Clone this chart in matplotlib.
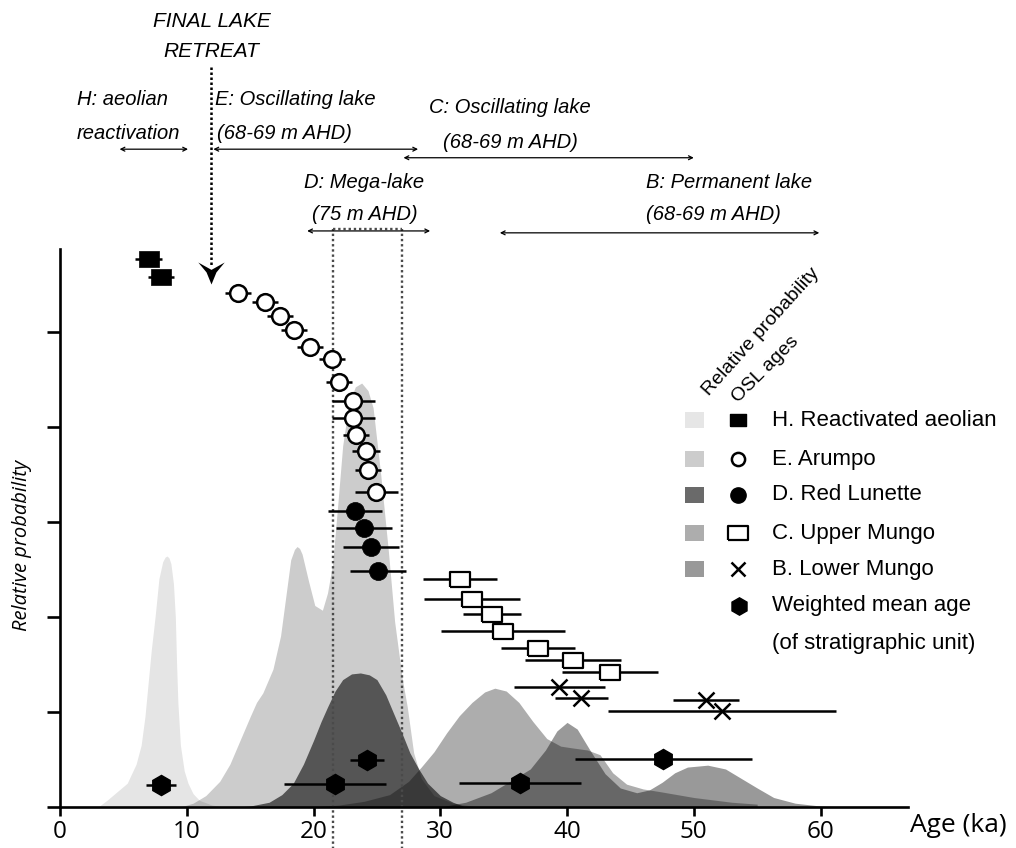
import numpy as np
import matplotlib.pyplot as plt

plt.rcParams['font.family'] = ['Liberation Sans', 'DejaVu Sans']

# relative probability curves (age in ka, height in y-tick units)
h_age = [3.0, 3.7, 5.3, 6.0, 6.4, 6.7, 6.95, 7.2, 7.5, 7.8, 8.1, 8.3, 8.45, 8.6, 8.75, 8.95, 9.1, 9.2, 9.3, 9.5, 9.8, 10.1, 10.5, 11.0, 12.0, 13.0]
h_prob = [0, 0.07, 0.25, 0.45, 0.65, 0.95, 1.3, 1.65, 2.0, 2.4, 2.58, 2.63, 2.64, 2.62, 2.56, 2.35, 2.0, 1.5, 1.1, 0.65, 0.38, 0.25, 0.14, 0.07, 0.02, 0]

e_age = [9.5, 10.5, 11.5, 12.6, 13.4, 14.2, 15.0, 15.5, 16.0, 16.8, 17.4, 17.8, 18.2, 18.5, 18.7, 18.9, 19.1, 19.6, 20.1, 20.7, 21.1, 21.5, 21.9, 22.3, 22.8, 23.3, 23.8, 24.3, 24.7, 25.3, 25.9, 26.4, 27.0, 27.4, 27.9, 28.5, 29.5, 31.0, 33.0]
e_prob = [0, 0.04, 0.12, 0.27, 0.45, 0.7, 0.95, 1.1, 1.2, 1.45, 1.8, 2.2, 2.6, 2.71, 2.74, 2.72, 2.66, 2.38, 2.12, 2.07, 2.25, 2.55, 3.16, 3.8, 4.25, 4.42, 4.46, 4.38, 4.2, 3.5, 2.7, 1.95, 1.35, 1.05, 0.57, 0.3, 0.12, 0.04, 0]

d_age = [14, 15, 16.5, 17.5, 18.4, 19.2, 20.0, 20.6, 21.1, 21.7, 22.3, 23.0, 23.7, 24.4, 25.0, 25.7, 26.3, 27.0, 27.6, 28.3, 29.0, 30, 31, 32]
d_prob = [0, 0.01, 0.05, 0.13, 0.25, 0.45, 0.7, 0.9, 1.05, 1.22, 1.34, 1.4, 1.41, 1.39, 1.34, 1.18, 0.99, 0.77, 0.57, 0.4, 0.25, 0.12, 0.05, 0]

c_age = [20, 22, 24, 26, 27.5, 28.5, 29.5, 30.5, 31.5, 32.5, 33.5, 34.3, 35.2, 36.2, 37.3, 38.4, 39.5, 40.5, 41.6, 42.6, 43.6, 44.7, 46, 47.4, 50, 53, 55, 55]
c_prob = [0, 0.02, 0.06, 0.13, 0.27, 0.42, 0.58, 0.78, 0.96, 1.1, 1.21, 1.25, 1.22, 1.1, 0.9, 0.72, 0.64, 0.62, 0.6, 0.55, 0.36, 0.24, 0.19, 0.16, 0.1, 0.05, 0.03, 0]

b_age = [30, 32, 34, 35.5, 37.1, 38.3, 39.2, 40.0, 40.8, 41.8, 43, 44.2, 45.5, 46.5, 47.5, 48.5, 49.5, 51.1, 52.5, 54, 55, 56.3, 58, 60, 62.4]
b_prob = [0, 0.05, 0.15, 0.27, 0.4, 0.6, 0.8, 0.89, 0.82, 0.6, 0.35, 0.2, 0.15, 0.18, 0.26, 0.36, 0.42, 0.44, 0.4, 0.28, 0.2, 0.1, 0.04, 0.01, 0]

# OSL ages (ka), 1-sigma errors and their stacking position
h_osl = [7.0, 7.97]
h_err = [1.05, 1.05]
h_pos = [5.77, 5.58]

e_osl = [14.05, 16.18, 17.36, 18.47, 19.73, 21.47, 22.02, 23.13, 23.13, 23.36, 24.15, 24.31, 24.94]
e_err = [1.05, 1.05, 1.0, 1.0, 1.0, 1.0, 1.0, 1.7, 1.7, 1.05, 1.08, 1.05, 1.7]
e_pos = [5.41, 5.31, 5.16, 5.02, 4.84, 4.71, 4.47, 4.27, 4.09, 3.91, 3.74, 3.54, 3.31]

d_osl = [23.28, 23.99, 24.55, 25.1]
d_err = [2.15, 2.2, 2.2, 2.2]
d_pos = [3.11, 2.93, 2.73, 2.48]

c_osl = [31.57, 32.52, 34.1, 34.96, 37.73, 40.49, 43.41]
c_err = [2.9, 3.8, 2.3, 4.9, 2.9, 3.8, 3.8]
c_pos = [2.4, 2.19, 2.03, 1.85, 1.67, 1.55, 1.42]

b_osl = [39.38, 41.12, 50.99, 52.25]
b_err = [3.6, 2.1, 2.6, 9.0]
b_pos = [1.26, 1.15, 1.13, 1.01]

wm_age = [7.97, 21.7, 24.23, 36.3, 47.6]
wm_err = [1.2, 4.05, 1.35, 4.8, 7.0]
wm_pos = [0.23, 0.24, 0.49, 0.25, 0.51]

mega_lake = [21.55, 27.0]
final_retreat = 11.92

# phase brackets: label lines, text x, text y, arrow start, arrow end, arrow height
phases = [
    (["H: aeolian", "reactivation"], [1.34, 1.34], [7.44, 7.09], 4.7, 10.1, 6.92),
    (["E: Oscillating lake", "(68-69 m AHD)"], [12.23, 12.4], [7.44, 7.09], 12.1, 28.25, 6.92),
    (["C: Oscillating lake", "(68-69 m AHD)"], [29.1, 30.2], [7.36, 6.99], 27.1, 50.0, 6.83),
    (["D: Mega-lake", "(75 m AHD)"], [19.26, 19.9], [6.57, 6.23], 19.5, 29.2, 6.06),
    (["B: Permanent lake", "(68-69 m AHD)"], [46.25, 46.25], [6.57, 6.23], 34.7, 59.9, 6.04),
]

legend_labels = ["H. Reactivated aeolian", "E. Arumpo", "D. Red Lunette",
                 "C. Upper Mungo", "B. Lower Mungo", "Weighted mean age"]
swatch_grey = ['#e6e6e6', '#cccccc', '#6a6a6a', '#adadad', '#999999']

rect = [(-1, -0.75), (1, -0.75), (1, 0.75), (-1, 0.75), (-1, -0.75)]
rect_h = [(-1, -0.8), (1, -0.8), (1, 0.8), (-1, 0.8), (-1, -0.8)]
arrowhead = [(0, -1), (-0.45, 0.1), (-1.2, 1), (0, 0.33), (1.2, 1), (0.45, 0.1), (0, -1)]

fig = plt.figure(figsize=(10.16, 8.48), dpi=100)
ax = fig.add_axes([60 / 1016, 41 / 848, 848 / 1016, 558 / 848])
ax.set_xlim(0, 66.9)
ax.set_ylim(0, 5.87)

for age, prob, a in [(h_age, h_prob, 0.1), (e_age, e_prob, 0.2), (c_age, c_prob, 0.32),
                     (b_age, b_prob, 0.4), (d_age, d_prob, 0.583)]:
    ax.fill_between(age, prob, color='black', alpha=a, lw=0, zorder=1)

# mega-lake box
for x in mega_lake:
    ax.plot([x, x], [-0.45, 6.08], ls=(0, (1, 1.2)), color='#4a4a4a', lw=1.7, clip_on=False, zorder=2)
ax.plot(mega_lake, [6.08, 6.08], ls=(0, (1, 1.2)), color='#4a4a4a', lw=1.7, clip_on=False, zorder=2)

# final lake retreat arrow
ax.plot([final_retreat, final_retreat], [7.78, 5.7], ls=(0, (1, 1)), color='black', lw=1.8, clip_on=False, zorder=3)
ax.plot([final_retreat], [5.62], marker=arrowhead, ms=19, color='black', mew=0, clip_on=False, zorder=3)
ax.text(final_retreat + 0.1, 8.26, "FINAL LAKE", style='italic', fontsize=15, ha='center', va='center')
ax.text(final_retreat + 0.05, 7.95, "RETREAT", style='italic', fontsize=15, ha='center', va='center')

for lines, tx, ty, a0, a1, ay in phases:
    for s, x, y in zip(lines, tx, ty):
        ax.text(x, y, s, style='italic', fontsize=14.5, ha='left', va='center')
    ax.annotate('', xy=(a1, ay), xytext=(a0, ay), annotation_clip=False,
                arrowprops=dict(arrowstyle='<->', lw=0.9, color='black', shrinkA=0, shrinkB=0,
                                mutation_scale=7))

eb = dict(ecolor='black', elinewidth=1.8, capsize=0, ls='none', zorder=4, clip_on=False)
ax.errorbar(h_osl, h_pos, xerr=h_err, marker=rect_h, ms=14.4, mfc='black', mec='black', mew=0.5, **eb)
ax.errorbar(e_osl, e_pos, xerr=e_err, marker='o', ms=12, mfc='white', mec='black', mew=1.8, **eb)
ax.errorbar(d_osl, d_pos, xerr=d_err, marker='o', ms=13, mfc='black', mec='black', mew=0.5, **eb)
ax.errorbar(c_osl, c_pos, xerr=c_err, marker=rect, ms=14.4, mfc='white', mec='black', mew=1.6, **eb)
ax.errorbar(b_osl, b_pos, xerr=b_err, marker='x', ms=11.5, mec='black', mew=1.8, **eb)
ax.errorbar(wm_age, wm_pos, xerr=wm_err, marker='h', ms=14.5, mfc='black', mec='black', **eb)

for side in ['top', 'right']:
    ax.spines[side].set_visible(False)
for side in ['left', 'bottom']:
    ax.spines[side].set_linewidth(1.9)
ax.set_yticks(range(6))
ax.tick_params(axis='y', length=9.5, width=1.9, labelleft=False)
ax.set_xticks(range(0, 61, 10))
ax.tick_params(axis='x', length=6.5, width=1.9, pad=3, labelsize=17.5)
for lbl in ax.get_xticklabels():
    lbl.set_fontfamily('Open Sans')

fig.text(910 / 1016, 1 - 826 / 848, "Age (ka)", fontfamily='Open Sans', fontsize=19, ha='left', va='center')
fig.text(22 / 1016, 1 - 545 / 848, "Relative probability", fontfamily='Open Sans', style='italic',
         fontsize=14.5, rotation=90, ha='center', va='center')

# legend, laid out in pixel coordinates
lg = fig.add_axes([0, 0, 1, 1], zorder=5)
lg.set_xlim(0, 1016)
lg.set_ylim(848, 0)
lg.axis('off')
lg.text(709, 396, "Relative probability", fontsize=14, rotation=48, rotation_mode='anchor',
        ha='left', va='baseline')
lg.text(738, 403, "OSL ages", fontsize=14, rotation=45, rotation_mode='anchor',
        ha='left', va='baseline')
rows = [420, 459, 495, 533, 569, 606]
for y, g in zip(rows, swatch_grey):
    lg.add_patch(plt.Rectangle((685, y - 8), 19, 16, color=g, lw=0))
lg.plot([738], [rows[0]], marker=rect_h, ms=11, color='black', ls='none')
lg.plot([738], [rows[1]], marker='o', ms=9.5, mfc='white', mec='black', mew=1.8, ls='none')
lg.plot([738], [rows[2]], marker='o', ms=11, color='black', ls='none')
lg.plot([738], [rows[3]], marker=rect, ms=14, mfc='white', mec='black', mew=1.6, ls='none')
lg.plot([738], [rows[4]], marker='x', ms=10, mec='black', mew=1.8, ls='none')
lg.plot([739], [rows[5]], marker='h', ms=12.5, color='black', ls='none')
for y, s in zip(rows, legend_labels):
    lg.text(772, y, s, fontsize=16, ha='left', va='center')
lg.text(772, 643, "(of stratigraphic unit)", fontsize=16, ha='left', va='center')

fig.savefig('out.png', dpi=100)
